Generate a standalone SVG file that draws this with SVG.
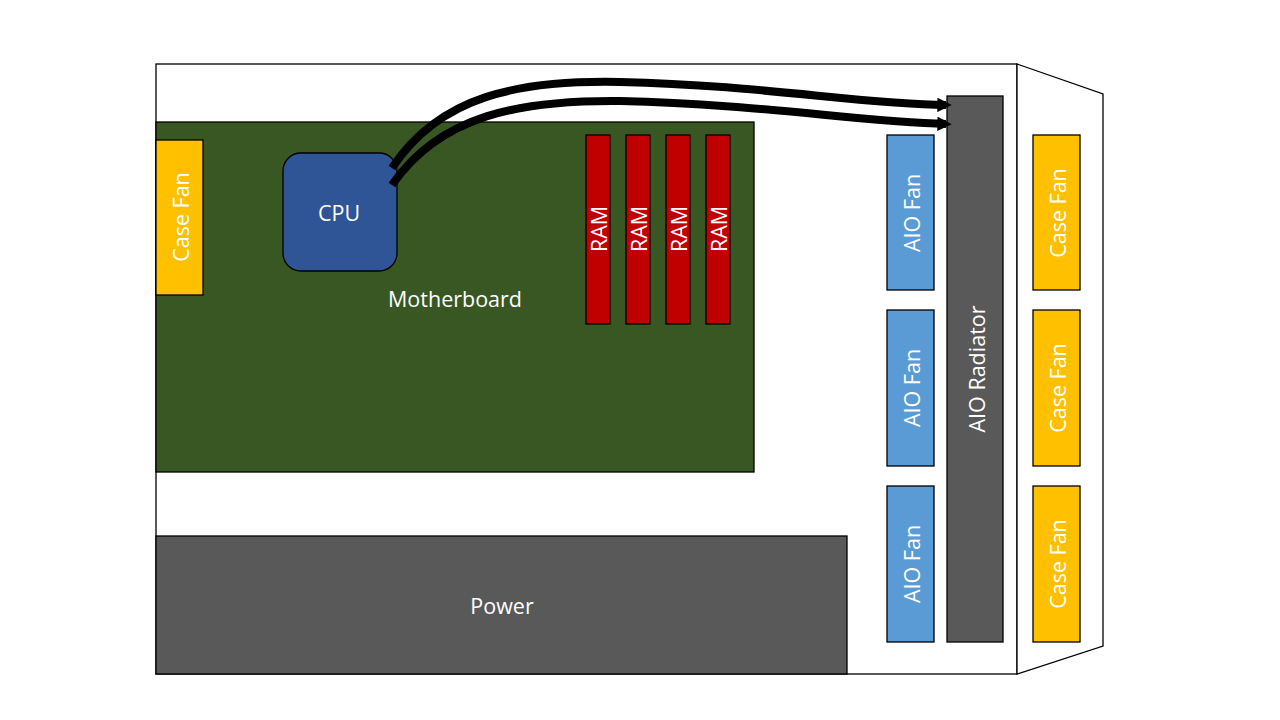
<svg xmlns="http://www.w3.org/2000/svg" width="1280" height="720" viewBox="0 0 1280 720">
<style>
.box{stroke:#000;stroke-width:1.3}
.lbl{font-family:"Open Sans","Noto Sans","Liberation Sans",sans-serif;font-size:21.5px;fill:#fff;text-anchor:middle;dominant-baseline:central}
.fan{fill:#FFC000}
.aio{fill:#5B9BD5}
.ram{fill:#C00000}
.tube{fill:none;stroke:#000;stroke-width:8;marker-end:url(#ah)}
</style>
<defs>
<marker id="ah" viewBox="0 0 10 10" refX="6" refY="5" markerWidth="1.8" markerHeight="1.8" orient="auto" markerUnits="strokeWidth">
<path d="M0,0 L10,5 L0,10 z" fill="#000"/>
</marker>
</defs>
<rect width="1280" height="720" fill="#fff"/>
<g id="case">
<rect x="156" y="64" width="861" height="610" fill="#fff" class="box"/>
<polygon points="1017,64 1103,94 1103,646 1017,674" fill="#fff" class="box"/>
</g>
<g id="motherboard">
<rect x="156" y="122" width="598" height="350" fill="#385723" class="box"/>
<text class="lbl" x="455" y="298">Motherboard</text>
</g>
<g id="casefan-left">
<rect x="156" y="140" width="47" height="155" class="box fan"/>
<text class="lbl" transform="translate(180,217) rotate(-90)">Case Fan</text>
</g>
<g id="cpu">
<rect x="283" y="153" width="114" height="118" rx="18" fill="#2F5597" class="box"/>
<text class="lbl" x="339" y="212">CPU</text>
</g>
<g id="ram1"><rect x="586" y="135" width="24" height="189" class="box ram"/><text class="lbl" transform="translate(598,229) rotate(-90)">RAM</text></g>
<g id="ram2"><rect x="626" y="135" width="24" height="189" class="box ram"/><text class="lbl" transform="translate(638,229) rotate(-90)">RAM</text></g>
<g id="ram3"><rect x="666" y="135" width="24" height="189" class="box ram"/><text class="lbl" transform="translate(678,229) rotate(-90)">RAM</text></g>
<g id="ram4"><rect x="706" y="135" width="24" height="189" class="box ram"/><text class="lbl" transform="translate(718,229) rotate(-90)">RAM</text></g>
<g id="power">
<rect x="156" y="536" width="691" height="138" fill="#595959" class="box"/>
<text class="lbl" x="502" y="605">Power</text>
</g>
<g id="aiofan1"><rect x="887" y="135" width="47" height="155" class="box aio"/><text class="lbl" transform="translate(911,213) rotate(-90)">AIO Fan</text></g>
<g id="aiofan2"><rect x="887" y="310" width="47" height="156" class="box aio"/><text class="lbl" transform="translate(911,388) rotate(-90)">AIO Fan</text></g>
<g id="aiofan3"><rect x="887" y="486" width="47" height="156" class="box aio"/><text class="lbl" transform="translate(911,564) rotate(-90)">AIO Fan</text></g>
<g id="radiator">
<rect x="947" y="96" width="56" height="546" fill="#595959" class="box"/>
<text class="lbl" transform="translate(976,369) rotate(-90)">AIO Radiator</text>
</g>
<g id="casefan-r1"><rect x="1033" y="135" width="47" height="155" class="box fan"/><text class="lbl" transform="translate(1057,213) rotate(-90)">Case Fan</text></g>
<g id="casefan-r2"><rect x="1033" y="310" width="47" height="156" class="box fan"/><text class="lbl" transform="translate(1057,388) rotate(-90)">Case Fan</text></g>
<g id="casefan-r3"><rect x="1033" y="486" width="47" height="156" class="box fan"/><text class="lbl" transform="translate(1057,564) rotate(-90)">Case Fan</text></g>
<g id="connectors">
<path class="tube" d="M392,168 C440,95 520,80 620,82 C760,85 860,104 946,105"/>
<path class="tube" d="M392,185 C440,115 520,100 620,101 C760,104 860,122 946,124"/>
</g>
</svg>
